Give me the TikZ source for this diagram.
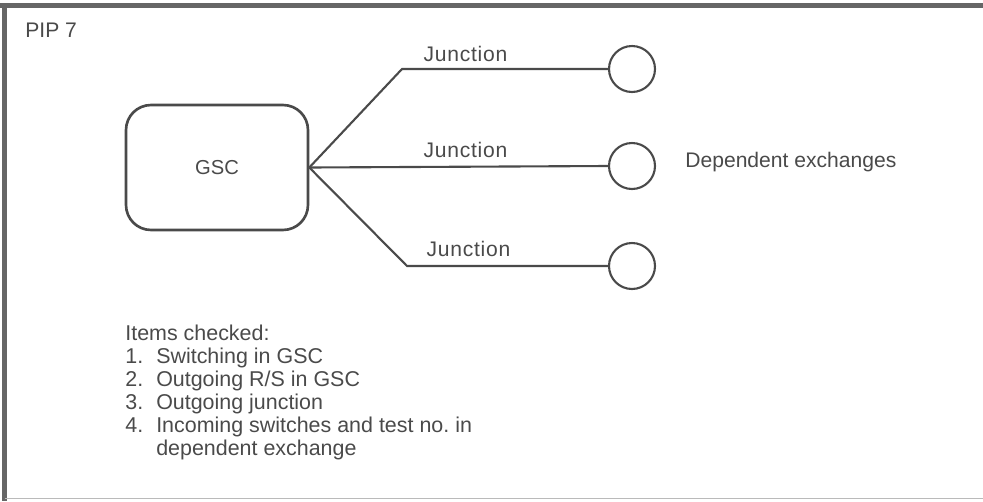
\documentclass[tikz,border=0pt]{standalone}
\usepackage{fontspec}
\setmainfont{Liberation Sans}
\newfontfamily\spacedfont[LetterSpace=3.5]{Liberation Sans}
\usetikzlibrary{positioning}
\definecolor{ink}{HTML}{4A4A4A}
\definecolor{framegray}{HTML}{666666}
\tikzset{
  lbl/.style={text=ink, font=\fontsize{12}{13.2}\selectfont, inner sep=0pt},
  wide/.style={lbl, font=\spacedfont\fontsize{12}{13.2}\selectfont},
  wire/.style={draw=ink, line width=1.2pt},
  gscbox/.style={draw=ink, line width=1.5pt, rounded corners=0.5cm,
    minimum width=3.64cm, minimum height=2.5cm, text=ink,
    font=\fontsize{11.5}{13}\selectfont},
  exch/.style={circle, draw=ink, line width=1.2pt, minimum size=0.92cm, inner sep=0pt}
}

\begin{document}
\frenchspacing
\begin{tikzpicture}[x=0.02cm, y=-0.02cm]
\useasboundingbox (0,0) rectangle (983,501);
% frame
\draw[framegray, line width=2.6pt] (0,5.5) -- (983,5.5);
\draw[framegray, line width=2.6pt] (4.5,5.5) -- (4.5,501);
\draw[framegray!45, line width=1pt] (4.5,498.5) -- (983,498.5);

\node[lbl, anchor=base west] (pip) at (25,37) {PIP 7};

\node[gscbox] (gsc) at (217,167.5) {GSC};
% dependent exchanges
\node[exch] (ex1) at (632,69) {};
\node[exch] (ex2) at (632,166) {};
\node[exch] (ex3) at (632,266) {};
\coordinate (k1) at (402,69);
\coordinate (k3) at (407,266);
\draw[wire] (gsc.east) -- (k1) -- (ex1.west);
\draw[wire] (gsc.east) -- (ex2.west);
\draw[wire] (gsc.east) -- (k3) -- (ex3.west);
\node[wide, anchor=base] (j1) at (465.5,61) {Junction};
\node[wide, anchor=base] (j2) at (465.5,157) {Junction};
\node[wide, anchor=base] (j3) at (468.5,256) {Junction};
\node[lbl, anchor=base west] (dep) at (685,167) {Dependent exchanges};

% items
\node[lbl, font=\fontsize{12.2}{13.2}\selectfont, anchor=base west] (items) at (125,340) {%
  \begin{tabular}[t]{@{}p{17.6pt}@{}l@{}}
  \multicolumn{2}{@{}l@{}}{Items checked:}\\
  1. & Switching in GSC\\
  2. & Outgoing R/S in GSC\\
  3. & Outgoing junction\\
  4. & Incoming switches and test no.\ in\\
     & dependent exchange
  \end{tabular}};
\end{tikzpicture}
\end{document}
